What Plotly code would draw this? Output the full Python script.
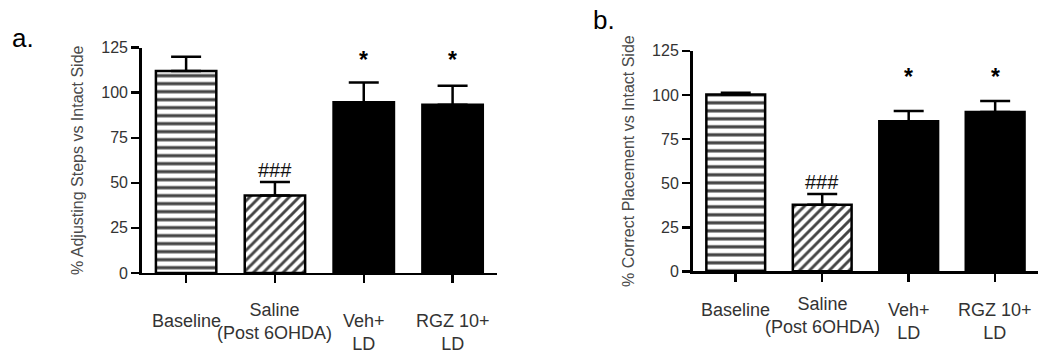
import plotly.graph_objects as go

# ---------------- data ----------------
categories = ["Baseline", "Saline<br>(Post 6OHDA)", "Veh+<br>LD", "RGZ 10+<br>LD"]
adjusting_mean = [112, 43, 94.7, 93.3]
adjusting_sem = [8, 7.4, 11, 10.6]
placement_mean = [100.2, 37.8, 85.1, 90.3]
placement_sem = [1, 6, 5.8, 6.3]
significance = ["", "###", "*", "*"]
y_ticks = [0, 25, 50, 75, 100, 125]
panel_names = ["a.", "b."]
y_titles = ["% Adjusting Steps vs Intact Side", "% Correct Placement vs Intact Side"]

# ---------------- style ----------------
W, H = 1050, 353
FONT = "Liberation Sans, Arial, sans-serif"
fill_colors = ["white", "white", "black", "black"]
pattern_shapes = ["-", "/", "", ""]
pattern_sizes = [8, 7, 8, 8]
pattern_solid = [0.4, 0.42, 0.3, 0.3]


def py(px):
    return 1 - px / H


panels = [
    dict(mean=adjusting_mean, sem=adjusting_sem, xdom=[141.7 / W, 497 / W],
         ydom=[py(278.3), py(41.7)], star_y=116.5, label_top=316.5, saline_up=11.6,
         name_x=10, name_y=32),
    dict(mean=placement_mean, sem=placement_sem, xdom=[692.5 / W, 1038.4 / W],
         ydom=[py(276.7), py(45)], star_y=108.5, label_top=304.6, saline_up=6,
         name_x=591, name_y=13),
]

fig = go.Figure()
annotations = []
xs = list(range(len(categories)))

for i, p in enumerate(panels):
    sfx = "" if i == 0 else str(i + 1)
    xa, ya = "x" + sfx, "y" + sfx
    fig.add_trace(go.Bar(
        x=xs, y=p["mean"], width=0.68, xaxis=xa, yaxis=ya, showlegend=False,
        hoverinfo="skip",
        marker=dict(color=fill_colors, line=dict(color="black", width=2.5),
                    pattern=dict(shape=pattern_shapes, fgcolor="black", bgcolor="white",
                                 fgopacity=1, size=pattern_sizes, solidity=pattern_solid)),
        error_y=dict(type="data", array=p["sem"], arrayminus=[0] * 4, symmetric=False,
                     color="black", thickness=2.5, width=15),
    ))
    axis_common = dict(showline=True, linecolor="black", linewidth=2.5, ticks="outside",
                       ticklen=8, tickwidth=2.5, tickcolor="black", showgrid=False,
                       zeroline=False)
    fig.update_layout(**{
        ("xaxis" + sfx): dict(domain=p["xdom"], range=[-0.5, 3.5], tickvals=xs,
                              showticklabels=False, anchor=ya, **axis_common),
        ("yaxis" + sfx): dict(domain=p["ydom"], range=[0, 125], tickvals=y_ticks,
                              anchor=xa, tickfont=dict(size=16, color="#333", family=FONT),
                              title=dict(text=y_titles[i], standoff=14,
                                         font=dict(size=16, color="#4a4a4a", family=FONT)),
                              **axis_common),
    })
    # category labels
    for j, c in enumerate(categories):
        top = p["label_top"] - (p["saline_up"] if j == 1 else 0)
        annotations.append(dict(x=j, y=py(top), xref=xa, yref="paper", text=c,
                                showarrow=False, xanchor="center", yanchor="top",
                                font=dict(size=18, color="#333", family=FONT)))
    # significance marks
    for j, s in enumerate(significance):
        if s == "*":
            annotations.append(dict(x=j, y=p["star_y"], xref=xa, yref=ya, text="<b>*</b>",
                                    showarrow=False, yanchor="middle", yshift=3,
                                    font=dict(size=23, color="black", family=FONT)))
        elif s:
            annotations.append(dict(x=j, y=p["mean"][j] + p["sem"][j], xref=xa, yref=ya,
                                    text=s, showarrow=False, yanchor="middle", yshift=12,
                                    font=dict(size=20, color="#111", family=FONT)))
    annotations.append(dict(x=p["name_x"] / W, y=py(p["name_y"]), xref="paper", yref="paper",
                            text=panel_names[i], showarrow=False, xanchor="left",
                            yanchor="middle", font=dict(size=26, color="black", family=FONT)))

fig.update_layout(width=W, height=H, margin=dict(l=0, r=0, t=0, b=0),
                  paper_bgcolor="white", plot_bgcolor="white", annotations=annotations,
                  font=dict(family=FONT), bargap=0.32, hovermode=False)
fig.write_html("out.html", config={"displayModeBar": False, "staticPlot": True},
               post_script="document.body.style.margin='0';document.body.style.overflow='hidden';")
